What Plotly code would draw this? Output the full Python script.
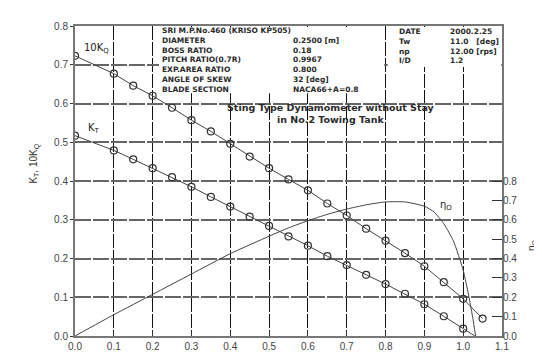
import plotly.graph_objects as go

# ---- data ----
J_kq = [0.0, 0.1, 0.15, 0.2, 0.25, 0.3, 0.35, 0.4, 0.45, 0.5, 0.55, 0.6, 0.65,
        0.7, 0.75, 0.8, 0.85, 0.9, 0.95, 1.0, 1.05]
KQ10 = [0.723, 0.677, 0.646, 0.620, 0.589, 0.557, 0.528, 0.496, 0.463, 0.433,
        0.404, 0.376, 0.342, 0.311, 0.277, 0.246, 0.214, 0.180, 0.139, 0.096, 0.045]

J_kt = [0.0, 0.1, 0.15, 0.2, 0.25, 0.3, 0.35, 0.4, 0.45, 0.5, 0.55, 0.6, 0.65,
        0.7, 0.75, 0.8, 0.85, 0.9, 0.95, 1.0]
KT = [0.517, 0.479, 0.456, 0.433, 0.410, 0.385, 0.359, 0.334, 0.308, 0.284,
      0.257, 0.233, 0.206, 0.183, 0.158, 0.134, 0.109, 0.082, 0.051, 0.019]
J_kt_end = [1.03]
KT_end = [0.0]

J_eta = [0.0, 0.1, 0.2, 0.3, 0.4, 0.5, 0.55, 0.6, 0.65, 0.7, 0.75, 0.8, 0.85,
         0.9, 0.925, 0.95, 0.975, 1.0, 1.015, 1.025, 1.032]
ETA = [0.0, 0.110, 0.215, 0.320, 0.425, 0.515, 0.558, 0.595, 0.628, 0.655,
       0.677, 0.692, 0.692, 0.670, 0.640, 0.580, 0.490, 0.340, 0.200, 0.090, 0.0]

x_ticks = [0.0, 0.1, 0.2, 0.3, 0.4, 0.5, 0.6, 0.7, 0.8, 0.9, 1.0, 1.1]
y_ticks = [0.0, 0.1, 0.2, 0.3, 0.4, 0.5, 0.6, 0.7, 0.8]
eta_ticks = [0.0, 0.1, 0.2, 0.3, 0.4, 0.5, 0.6, 0.7, 0.8]

info_labels = ["SRI M.P.No.460 (KRISO KP505)", "DIAMETER", "BOSS RATIO",
               "PITCH RATIO(0.7R)", "EXP.AREA RATIO", "ANGLE OF SKEW", "BLADE SECTION"]
info_values = ["", "0.2500 [m]", "0.18", "0.9967", "0.800", "32 [deg]", "NACA66+A=0.8"]
cond_labels = ["DATE", "Tw", "np", "I/D"]
cond_values = ["2000.2.25", "11.0   [deg]", "12.00 [rps]", "1.2"]
note_lines = ["Sting Type Dynamometer without Stay", "in No.2 Towing Tank"]

# ---- geometry helpers (pixel -> data) ----
PX0, PX_PER = 67.0, 388.0     # J=0 at x px, px per unit J
PY_TOP, PY_PER = 17.0, 401.0  # K=0.8 at y px, px per unit K


def jx(px):
    return (px - PX0) / PX_PER


def ky(py):
    return 0.8 - (py - PY_TOP) / PY_PER


def block(lines):
    return "<br>".join(t if t else "\u00a0" for t in lines)


LINE_C = "#444444"
FONT = "Liberation Sans, Arial, sans-serif"
BOXFONT = "DejaVu Sans, sans-serif"
BOX_SIZE = 7.5
BOXF = dict(family=BOXFONT, size=BOX_SIZE, color="#2a2a2a", weight="bold")
ROW = 1.3 * BOX_SIZE
FIRST = 23.0

fig = go.Figure()

fig.add_trace(go.Scatter(x=J_kq, y=KQ10, mode="lines+markers",
                         line=dict(color=LINE_C, width=1),
                         marker=dict(symbol="circle-open", size=7, color="#333333",
                                     line=dict(width=1.2)),
                         showlegend=False))
fig.add_trace(go.Scatter(x=J_kt + J_kt_end, y=KT + KT_end, mode="lines",
                         line=dict(color=LINE_C, width=1), showlegend=False))
fig.add_trace(go.Scatter(x=J_kt, y=KT, mode="markers",
                         marker=dict(symbol="circle-open", size=7, color="#333333",
                                     line=dict(width=1.2)),
                         showlegend=False))
fig.add_trace(go.Scatter(x=J_eta, y=ETA, mode="lines", yaxis="y2",
                         line=dict(color=LINE_C, width=1, shape="spline", smoothing=0.5),
                         showlegend=False))

# white info boxes hiding the grid
fig.add_shape(type="rect", x0=jx(151), x1=jx(376), y0=ky(FIRST + 6 * ROW + 5), y1=ky(18),
              fillcolor="white", line=dict(width=0), layer="above")
fig.add_shape(type="rect", x0=jx(379.5), x1=jx(493), y0=ky(59.5), y1=ky(18),
              fillcolor="white", line=dict(width=0), layer="above")

ann = []
MID7 = FIRST + 3 * ROW
MID4 = FIRST + 1.5 * ROW
ann.append(dict(x=jx(152), y=ky(MID7), text=block(info_labels),
                xanchor="left", yanchor="middle", align="left", showarrow=False, font=BOXF))
ann.append(dict(x=jx(283), y=ky(MID7), text=block(info_values),
                xanchor="left", yanchor="middle", align="left", showarrow=False, font=BOXF))
ann.append(dict(x=jx(389), y=ky(MID4), text=block(cond_labels),
                xanchor="left", yanchor="middle", align="left", showarrow=False, font=BOXF))
ann.append(dict(x=jx(440), y=ky(MID4), text=block(cond_values),
                xanchor="left", yanchor="middle", align="left", showarrow=False, font=BOXF))

ann.append(dict(x=jx(323), y=ky(107.5), text=block(note_lines),
                xanchor="center", yanchor="middle", align="center", showarrow=False,
                font=dict(family=BOXFONT, size=9.5, color="#2a2a2a", weight="bold")))

ann.append(dict(x=jx(88), y=ky(40), text="10K<sub>Q</sub>", showarrow=False,
                font=dict(family=BOXFONT, size=10, color="#222")))
ann.append(dict(x=jx(86), y=ky(123), text="K<sub>T</sub>", showarrow=False,
                font=dict(family=BOXFONT, size=10, color="#222")))
ann.append(dict(x=jx(438), y=ky(203), text="η<sub>O</sub>", showarrow=False,
                font=dict(family=BOXFONT, size=10, color="#222")))

# axis titles
ann.append(dict(xref="paper", yref="paper", x=(18 - 67) / 427.0, y=(338 - 160) / 321.0,
                text="K<sub>T</sub>, 10K<sub>Q</sub>", textangle=-90, showarrow=False,
                font=dict(family=FONT, size=10, color="#333")))
ann.append(dict(xref="paper", yref="paper", x=(532 - 67) / 427.0, y=(338 - 252) / 321.0,
                text="η<sub>O</sub>", textangle=-90, showarrow=False,
                font=dict(family=FONT, size=10, color="#333")))

fig.update_layout(
    width=542, height=356,
    margin=dict(l=67, r=48, t=17, b=18),
    paper_bgcolor="white", plot_bgcolor="white",
    annotations=ann,
    xaxis=dict(range=[0, 1.1], tickvals=x_ticks, ticktext=[f"{v:.1f}" for v in x_ticks],
               showgrid=True, gridcolor="#111111", gridwidth=1.3, griddash="14px,2px",
               showline=True, linecolor="#777777", linewidth=2, mirror=True,
               ticks="inside", ticklen=5, tickcolor="#333",
               tickfont=dict(family=FONT, size=10, color="#444"), zeroline=False),
    yaxis=dict(range=[0, 0.8], tickvals=y_ticks, ticktext=[f"{v:.1f}" for v in y_ticks],
               showgrid=True, gridcolor="#666666", gridwidth=1.5, griddash="16px,2px",
               showline=True, linecolor="#777777", linewidth=2, mirror=True,
               ticks="outside", ticklen=3, tickcolor="#333",
               tickfont=dict(family=FONT, size=10, color="#444"), zeroline=False),
    yaxis2=dict(range=[0, 1.6], overlaying="y", side="right",
                tickvals=eta_ticks, ticktext=[f"{v:.1f}" for v in eta_ticks],
                showgrid=False, zeroline=False, showline=False,
                ticks="inside", ticklen=10, tickcolor="#333",
                tickfont=dict(family=FONT, size=10, color="#444")),
)

fig.write_html("out.html")
